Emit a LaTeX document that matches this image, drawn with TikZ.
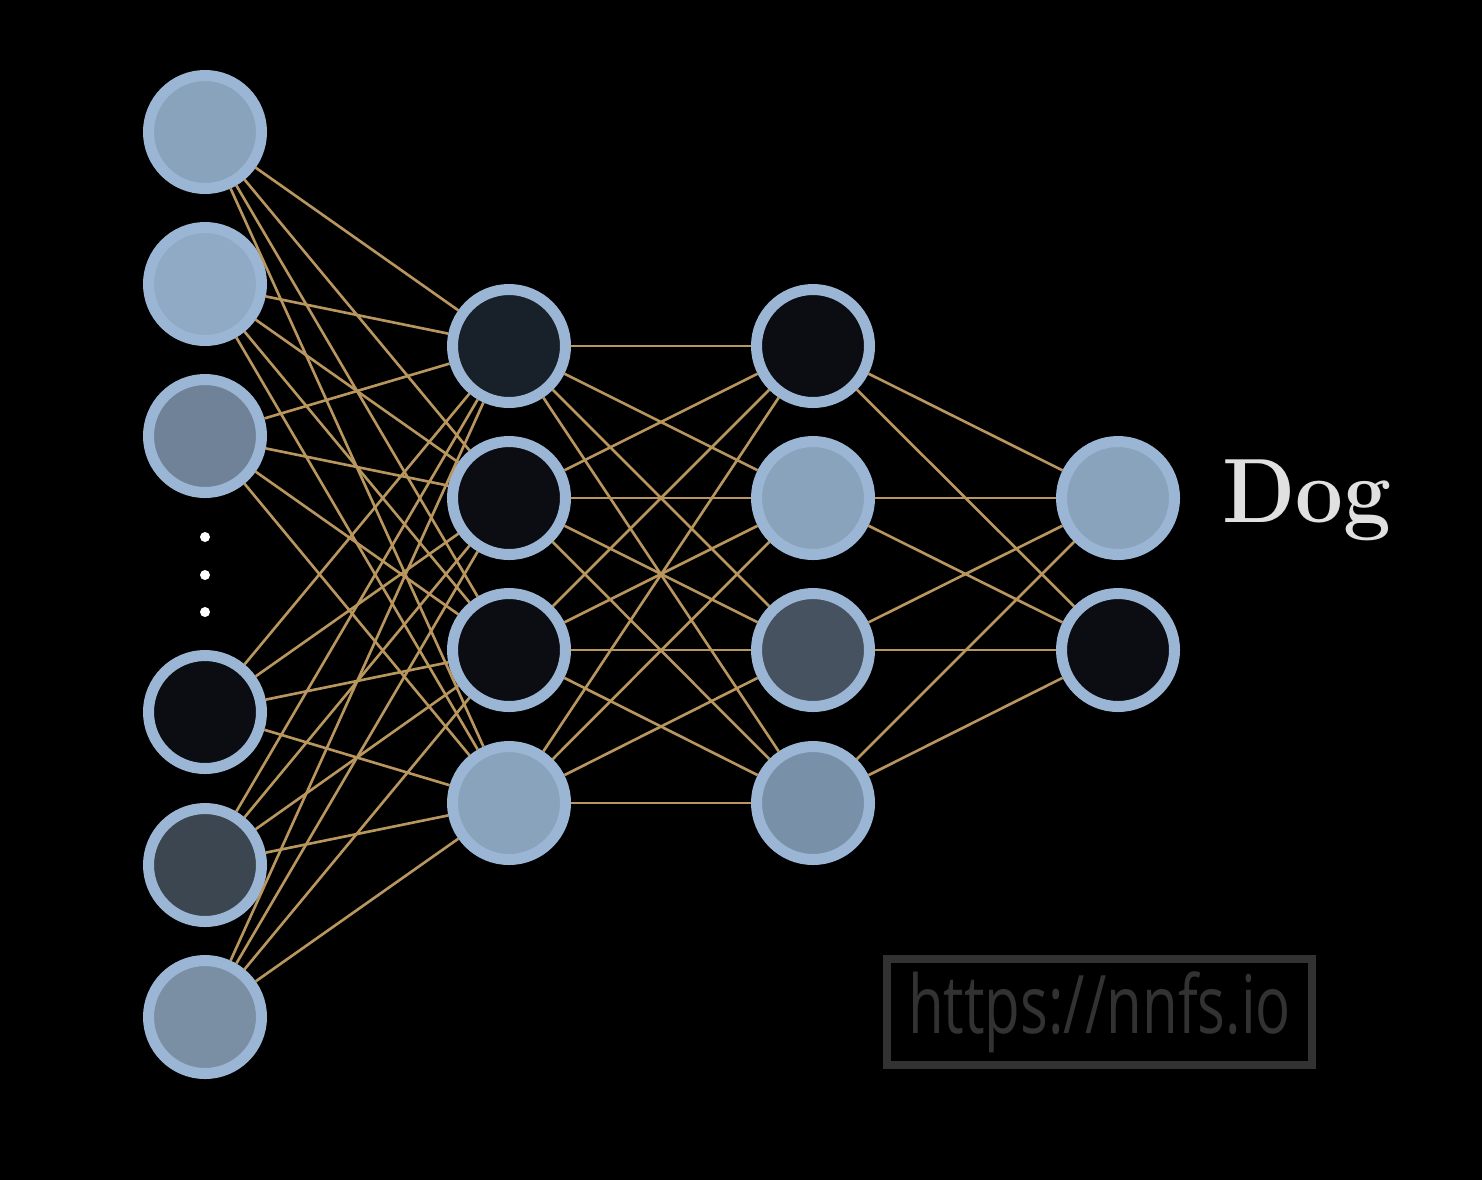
\documentclass[tikz,border=0pt]{standalone}
\usepackage{fontspec}
\usepackage{tikz}
\usepackage{xcolor}
\newfontfamily\urlfont{Open Sans}
\definecolor{ring}{HTML}{9AB6D4}
\definecolor{wire}{HTML}{B8965E}
\definecolor{actA}{HTML}{8AA3BC}
\definecolor{actB}{HTML}{90AAC5}
\definecolor{actC}{HTML}{6F8297}
\definecolor{actD}{HTML}{0B0D13}
\definecolor{actE}{HTML}{3B4651}
\definecolor{actF}{HTML}{7A8EA4}
\definecolor{actG}{HTML}{18202A}
\definecolor{actH}{HTML}{46525F}
\definecolor{actI}{HTML}{7890A8}
\definecolor{mark}{HTML}{323232}

\begin{document}
\begin{tikzpicture}[x=1cm,y=1cm,
    nrn/.style={circle,draw=ring,line width=0.11cm,minimum size=1.13cm,inner sep=0pt},
    lnk/.style={wire,line width=0.75pt},
    dot/.style={circle,fill=white,inner sep=0pt,minimum size=0.1cm}]

  \fill[black] (0,0) rectangle (14.82,-11.8);
  \useasboundingbox (0,0) rectangle (14.82,-11.8);

  % input layer
  \node[nrn,fill=actA] (in1) at (2.05,-1.32) {};
  \node[nrn,fill=actB] (in2) at (2.05,-2.84) {};
  \node[nrn,fill=actC] (in3) at (2.05,-4.36) {};
  \node[nrn,fill=actD] (in4) at (2.05,-7.12) {};
  \node[nrn,fill=actE] (in5) at (2.05,-8.65) {};
  \node[nrn,fill=actF] (in6) at (2.05,-10.17) {};
  \node[dot] (d1) at (2.05,-5.37) {};
  \node[dot] (d2) at (2.05,-5.75) {};
  \node[dot] (d3) at (2.05,-6.12) {};

  % hidden layers
  \node[nrn,fill=actG] (ha1) at (5.09,-3.46) {};
  \node[nrn,fill=actD] (ha2) at (5.09,-4.98) {};
  \node[nrn,fill=actD] (ha3) at (5.09,-6.50) {};
  \node[nrn,fill=actA] (ha4) at (5.09,-8.03) {};
  \node[nrn,fill=actD] (hb1) at (8.13,-3.46) {};
  \node[nrn,fill=actA] (hb2) at (8.13,-4.98) {};
  \node[nrn,fill=actH] (hb3) at (8.13,-6.50) {};
  \node[nrn,fill=actI] (hb4) at (8.13,-8.03) {};

  % output layer
  \node[nrn,fill=actA] (out1) at (11.18,-4.98) {};
  \node[nrn,fill=actD] (out2) at (11.18,-6.50) {};
  \node[anchor=base west,text=black!12,font=\bfseries\fontsize{26}{30}\selectfont,inner sep=0pt]
    (dog) at (12.22,-5.22) {\scalebox{0.93}[1]{Dog}};

  \foreach \i in {1,...,6}
    \foreach \j in {1,...,4}
      \draw[lnk] (in\i) -- (ha\j);
  \foreach \i in {1,...,4}
    \foreach \j in {1,...,4}
      \draw[lnk] (ha\i) -- (hb\j);
  \foreach \i in {1,...,4}
    \foreach \j in {1,2}
      \draw[lnk] (hb\i) -- (out\j);

  % watermark
  \node[draw=mark,line width=2.2pt,text=mark,minimum width=4.25cm,minimum height=1.06cm,
    inner sep=0pt,font=\urlfont\fontsize{23}{26}\selectfont] (url) at (10.995,-10.12)
    {\scalebox{0.72}[1]{https://nnfs.io}};
\end{tikzpicture}
\end{document}
